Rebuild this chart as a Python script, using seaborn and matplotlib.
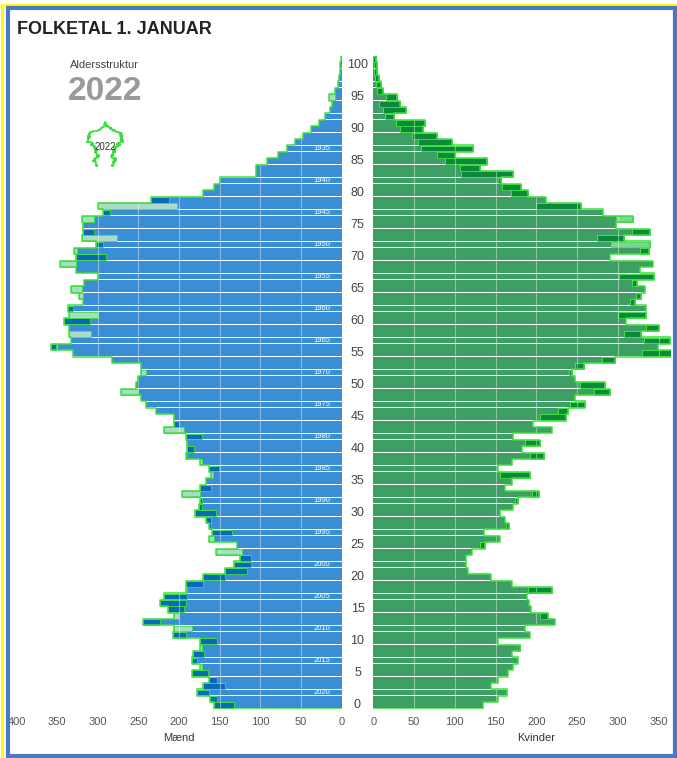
"""Befolkningspyramide 1. januar 2022 - mænd/kvinder med sammenligningsomrids."""
import numpy as np
import pandas as pd
import matplotlib
matplotlib.use('Agg')
import matplotlib.pyplot as plt
from matplotlib.patches import Rectangle
from matplotlib.transforms import blended_transform_factory
import seaborn as sns

# alder 0..101
ages = np.arange(102)

maend = [157, 162, 178, 171, 163, 184, 172, 184, 183, 172,
         174, 208, 184, 245, 200, 214, 223, 218, 190, 192,
         170, 144, 133, 125, 123, 129, 157, 159, 163, 167,
         180, 176, 174, 174, 174, 167, 158, 163, 172, 192,
         190, 190, 192, 194, 206, 206, 229, 241, 247, 251,
         253, 251, 241, 247, 282, 331, 357, 333, 308, 335,
         341, 300, 337, 318, 318, 320, 317, 300, 327, 327,
         327, 325, 302, 276, 318, 318, 305, 293, 202, 235,
         170, 157, 150, 106, 106, 92, 78, 67, 57, 47,
         38, 28, 20, 15, 12, 8, 8, 5, 3, 2,
         2, 1]
maend_ref = [133, 153, 163, 143, 153, 165, 174, 178, 169, 174,
             153, 192, 206, 223, 206, 194, 192, 190, 192, 170,
             143, 116, 112, 112, 154, 129, 163, 135, 161, 161,
             155, 172, 172, 196, 161, 167, 161, 151, 174, 190,
             182, 190, 172, 218, 200, 206, 229, 241, 247, 272,
             253, 251, 247, 247, 282, 331, 352, 333, 335, 335,
             310, 335, 331, 318, 323, 333, 317, 300, 327, 347,
             290, 329, 294, 319, 305, 318, 320, 285, 300, 212,
             170, 157, 150, 106, 106, 92, 78, 67, 57, 47,
             38, 28, 20, 15, 12, 16, 8, 5, 3, 2,
             2, 1]
kvinder = [134, 153, 164, 144, 153, 165, 172, 178, 170, 180,
           153, 192, 186, 223, 214, 194, 191, 189, 219, 170,
           144, 116, 114, 114, 121, 137, 156, 136, 167, 161,
           156, 172, 178, 203, 161, 170, 192, 153, 170, 209,
           182, 204, 172, 219, 196, 237, 239, 260, 247, 291,
           284, 247, 244, 259, 297, 366, 349, 364, 329, 351,
           310, 335, 334, 321, 328, 333, 323, 345, 327, 343,
           290, 338, 292, 308, 339, 298, 298, 282, 255, 212,
           190, 181, 157, 172, 131, 140, 100, 122, 97, 78,
           61, 63, 25, 40, 33, 29, 12, 10, 7, 5,
           4, 3]
kvinder_ref = [134, 153, 164, 144, 153, 165, 172, 178, 170, 176,
               153, 192, 186, 223, 204, 194, 191, 189, 190, 170,
               144, 116, 114, 114, 121, 131, 156, 136, 163, 161,
               156, 172, 174, 195, 161, 170, 156, 153, 170, 192,
               182, 186, 172, 219, 196, 205, 227, 241, 247, 271,
               253, 247, 240, 247, 281, 330, 349, 332, 308, 334,
               310, 300, 334, 315, 322, 333, 317, 302, 327, 343,
               290, 327, 339, 275, 317, 298, 319, 282, 200, 212,
               169, 158, 153, 108, 106, 88, 78, 59, 55, 47,
               33, 28, 14, 12, 7, 16, 5, 3, 2, 1,
               1, 0]

year = 2022
year_ages = np.arange(2, 88, 5)

W, H = 677, 758
BLUE, BLUE_DARK = '#3a8ed6', '#0b6ab8'
GREEN, GREEN_DARK = '#3e9f64', '#0c8a3a'
LINE = '#3ae03a'
LIGHT_M, LIGHT_K = '#a9dcc6', '#7fd39a'
BAR_H = 0.9

sns.set_style('white')
plt.rcParams['font.family'] = ['Liberation Sans', 'DejaVu Sans']

fig = plt.figure(figsize=(W / 100, H / 100), dpi=100)


def fx(px):
    return px / W


def fy(py):
    return 1 - py / H


ax_bottom, ax_top = fy(708.5), fy(55.7)
ax_m = fig.add_axes([fx(16.5), ax_bottom, fx(325.2), ax_top - ax_bottom])
ax_k = fig.add_axes([fx(373.3), ax_bottom, fx(297.5), ax_top - ax_bottom])


def draw_side(ax, cur, ref, base, dark, light):
    cur, ref = np.asarray(cur), np.asarray(ref)
    df = pd.DataFrame({'alder': ages, 'antal': np.minimum(cur, ref)})
    sns.barplot(data=df, x='antal', y='alder', orient='y', native_scale=True,
                color=base, saturation=1, width=BAR_H, errorbar=None,
                linewidth=0, ax=ax)
    over = cur > ref
    ax.barh(ages[over], cur[over] - ref[over], left=ref[over], height=BAR_H,
            color=dark, edgecolor=LINE, linewidth=0.6, zorder=2)
    under = ref > cur
    ax.barh(ages[under], ref[under] - cur[under], left=cur[under], height=BAR_H,
            color=light, edgecolor=LINE, linewidth=0.6, zorder=2)
    env = np.maximum(cur, ref)
    xs = np.concatenate([[0], np.repeat(env, 2), [0]])
    ys = np.concatenate([[-0.5], np.column_stack([ages - 0.5, ages + 0.5]).ravel(), [ages[-1] + 0.5]])
    ax.plot(xs, ys, color=LINE, lw=1.1, zorder=4)
    ax.set_ylim(-0.5, ages[-1] + 0.5)
    ax.set_xlabel('')
    ax.set_ylabel('')
    ax.set_yticks([])
    for s in ax.spines.values():
        s.set_visible(False)
    ax.tick_params(axis='x', length=0, pad=6, labelsize=8, labelcolor='#555555')
    return env


env_m = draw_side(ax_m, maend, maend_ref, BLUE, BLUE_DARK, LIGHT_M)
env_k = draw_side(ax_k, kvinder, kvinder_ref, GREEN, GREEN_DARK, LIGHT_K)

ax_m.set_xlim(400, 0)
ax_m.set_xticks(np.arange(0, 401, 50))
ax_k.set_xlim(0, 365)
ax_k.set_xticks(np.arange(0, 351, 50))
for ax in (ax_m, ax_k):
    for v in range(50, 401, 50):
        ax.axvline(v, color='white', alpha=0.4, lw=0.8, zorder=3)

ax_m.text(200, -0.045, 'Mænd', transform=blended_transform_factory(ax_m.transData, ax_m.transAxes),
          ha='center', va='center', fontsize=8, color='#333333')
ax_k.text(200, -0.045, 'Kvinder', transform=blended_transform_factory(ax_k.transData, ax_k.transAxes),
          ha='center', va='center', fontsize=8, color='#333333')

# alder midt imellem
tr = blended_transform_factory(ax_m.transAxes, ax_m.transData)
for a in range(0, 101, 5):
    ax_m.text((357.5 - 16.5) / 325.2, a, str(a), transform=tr, ha='center', va='center',
              fontsize=9, color='#444444', clip_on=False)

# fødselsår i mændenes søjler
for a in year_ages:
    ax_m.text(14, a, str(year - a), ha='right', va='center', fontsize=5.5,
              color='white', zorder=5)

fig.text(fx(17), fy(30), 'FOLKETAL 1. JANUAR', ha='left', va='center',
         fontsize=13, fontweight='bold', color='#222222')
fig.text(fx(104), fy(65), 'Aldersstruktur', ha='center', va='center',
         fontsize=8, color='#444444')
fig.text(fx(105), fy(91), str(year), ha='center', va='center',
         fontsize=24, fontweight='bold', color='#9a9a9a')

# lille silhuet
ax_in = fig.add_axes([fx(86), fy(167), fx(38), 46 / H])
ys = np.column_stack([ages - 0.5, ages + 0.5]).ravel()
ax_in.plot(-np.repeat(env_m, 2), ys, color=LINE, lw=1.2)
ax_in.plot(np.repeat(env_k, 2), ys, color=LINE, lw=1.2)
ax_in.set_xlim(-380, 380)
ax_in.set_ylim(-1, 103)
ax_in.axis('off')
ax_in.text(0, 45, str(year), ha='center', va='center', fontsize=7, color='#333333')

# rammer
fig.patches.append(Rectangle((fx(2), -0.1), 1.2, fy(4.6) + 0.1, transform=fig.transFigure,
                             fill=False, edgecolor='#ffff00', lw=2.2, zorder=10))
fig.patches.append(Rectangle((fx(7.5), fy(755.5)), fx(675.3 - 7.5), (755.5 - 8.3) / H,
                             transform=fig.transFigure, fill=False, edgecolor='#4a78c8',
                             lw=3, zorder=11))

fig.savefig('out.png', dpi=100)
